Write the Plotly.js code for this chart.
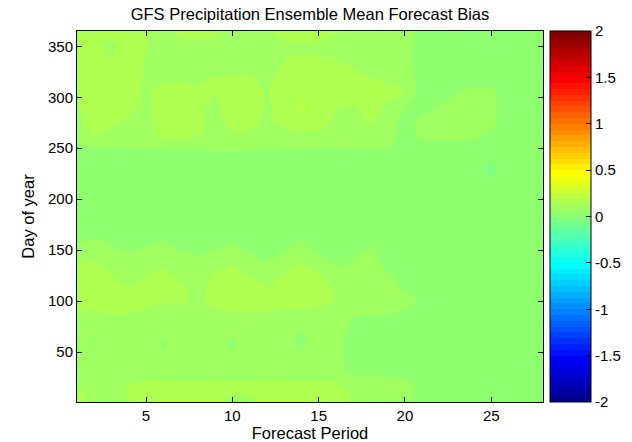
<!DOCTYPE html>
<html>
<head>
<meta charset="utf-8">
<script src="https://cdn.plot.ly/plotly-3.0.1.min.js"></script>
<style>
html,body{margin:0;padding:0;background:#fff;}
#chart{width:632px;height:442px;}
</style>
</head>
<body>
<div id="chart"></div>
<script>
// Forecast period (x) and day of year (y) sample positions
const forecastPeriods = [1,2,3,4,5,6,7,8,9,10,11,12,13,14,15,16,17,18,19,20,21,22,23,24,25,26,27,28];
const dayOfYear = [1,10,20,30,45,58,70,82,90,100,112,124,136,148,160,172,200,215,228,240,250,262,275,290,305,320,335,350,365];

// Ensemble mean forecast bias, one row per day-of-year sample
const bias_d001 = [0.145,0.11,0.10,0.12,0.155,0.155,0.155,0.155,0.145,0.10,0.11,0.145,0.155,0.155,0.155,0.155,0.115,0.09,0.09,0.085,0.04,0.03,0.03,0.03,0.03,0.03,0.03,0.03];
const bias_d010 = [0.14,0.11,0.11,0.13,0.155,0.155,0.155,0.155,0.15,0.13,0.13,0.15,0.155,0.155,0.155,0.15,0.115,0.11,0.09,0.085,0.04,0.03,0.03,0.03,0.03,0.03,0.03,0.03];
const bias_d020 = [0.10,0.10,0.11,0.124,0.135,0.135,0.13,0.13,0.132,0.13,0.13,0.135,0.132,0.13,0.13,0.128,0.10,0.11,0.09,0.08,0.04,0.03,0.03,0.03,0.03,0.03,0.03,0.03];
const bias_d030 = [0.09,0.09,0.09,0.09,0.09,0.09,0.09,0.09,0.09,0.09,0.09,0.09,0.09,0.09,0.09,0.085,0.045,0.04,0.04,0.04,0.035,0.03,0.03,0.03,0.03,0.03,0.03,0.03];
const bias_d045 = [0.09,0.085,0.09,0.09,0.09,0.07,0.09,0.09,0.09,0.068,0.09,0.09,0.09,0.068,0.09,0.085,0.04,0.035,0.035,0.035,0.03,0.03,0.03,0.03,0.03,0.03,0.03,0.03];
const bias_d058 = [0.09,0.055,0.09,0.09,0.09,0.055,0.09,0.09,0.09,0.05,0.09,0.09,0.09,0.05,0.09,0.08,0.035,0.03,0.03,0.03,0.03,0.03,0.03,0.03,0.03,0.03,0.03,0.03];
const bias_d070 = [0.09,0.085,0.09,0.09,0.09,0.08,0.09,0.09,0.09,0.075,0.09,0.09,0.09,0.055,0.09,0.085,0.05,0.035,0.035,0.035,0.03,0.03,0.03,0.03,0.03,0.03,0.03,0.03];
const bias_d082 = [0.105,0.10,0.11,0.105,0.10,0.09,0.095,0.09,0.10,0.105,0.11,0.105,0.10,0.10,0.10,0.09,0.06,0.04,0.035,0.035,0.03,0.03,0.03,0.03,0.03,0.03,0.03,0.03];
const bias_d090 = [0.13,0.12,0.14,0.135,0.12,0.11,0.115,0.10,0.12,0.126,0.128,0.126,0.12,0.12,0.115,0.10,0.085,0.08,0.08,0.055,0.035,0.03,0.03,0.03,0.03,0.03,0.03,0.03];
const bias_d100 = [0.145,0.14,0.15,0.145,0.14,0.128,0.132,0.115,0.14,0.15,0.15,0.15,0.15,0.15,0.14,0.124,0.10,0.10,0.13,0.09,0.058,0.035,0.03,0.03,0.03,0.03,0.03,0.03];
const bias_d112 = [0.155,0.155,0.15,0.13,0.145,0.15,0.135,0.11,0.14,0.155,0.15,0.13,0.15,0.155,0.145,0.12,0.09,0.09,0.085,0.055,0.03,0.03,0.03,0.03,0.03,0.03,0.03,0.03];
const bias_d124 = [0.15,0.155,0.13,0.11,0.126,0.135,0.115,0.11,0.13,0.145,0.126,0.11,0.128,0.145,0.13,0.10,0.09,0.09,0.07,0.04,0.03,0.03,0.03,0.03,0.03,0.03,0.03,0.03];
const bias_d136 = [0.128,0.135,0.11,0.10,0.11,0.12,0.10,0.10,0.115,0.126,0.09,0.068,0.115,0.13,0.11,0.055,0.07,0.08,0.05,0.03,0.03,0.03,0.03,0.03,0.03,0.03,0.03,0.03];
const bias_d148 = [0.08,0.09,0.08,0.062,0.078,0.088,0.062,0.05,0.07,0.085,0.062,0.04,0.062,0.085,0.055,0.035,0.05,0.075,0.04,0.03,0.03,0.03,0.03,0.03,0.03,0.03,0.03,0.03];
const bias_d160 = [0.05,0.07,0.05,0.035,0.045,0.063,0.04,0.035,0.045,0.055,0.035,0.03,0.04,0.063,0.04,0.03,0.035,0.045,0.03,0.03,0.03,0.03,0.03,0.03,0.03,0.03,0.03,0.03];
const bias_d172 = [0.03,0.03,0.03,0.03,0.03,0.03,0.03,0.03,0.03,0.03,0.03,0.03,0.03,0.03,0.03,0.03,0.03,0.03,0.03,0.03,0.03,0.03,0.03,0.03,0.03,0.03,0.03,0.03];
const bias_d200 = [0.03,0.03,0.03,0.03,0.03,0.03,0.03,0.03,0.03,0.03,0.03,0.03,0.03,0.03,0.03,0.03,0.03,0.03,0.03,0.03,0.03,0.03,0.03,0.03,0.03,0.03,0.03,0.03];
const bias_d215 = [0.03,0.03,0.03,0.03,0.03,0.03,0.03,0.03,0.03,0.03,0.03,0.03,0.03,0.03,0.03,0.03,0.03,0.03,0.03,0.03,0.03,0.03,0.03,0.03,0.03,0.03,0.03,0.03];
const bias_d228 = [0.03,0.03,0.03,0.03,0.03,0.03,0.03,0.03,0.03,0.03,0.03,0.03,0.03,0.03,0.03,0.03,0.03,0.03,0.03,0.03,0.03,0.03,0.03,0.01,-0.015,0.03,0.03,0.03];
const bias_d240 = [0.035,0.035,0.035,0.035,0.035,0.035,0.035,0.035,0.035,0.035,0.035,0.035,0.035,0.035,0.035,0.035,0.035,0.035,0.035,0.03,0.03,0.03,0.03,0.03,0.005,0.03,0.03,0.03];
const bias_d250 = [0.055,0.055,0.06,0.06,0.065,0.07,0.07,0.07,0.075,0.075,0.07,0.07,0.07,0.065,0.06,0.058,0.065,0.065,0.065,0.04,0.045,0.045,0.045,0.035,0.03,0.03,0.03,0.03];
const bias_d262 = [0.08,0.13,0.10,0.09,0.10,0.14,0.14,0.13,0.10,0.115,0.115,0.09,0.10,0.115,0.11,0.09,0.09,0.09,0.08,0.045,0.07,0.08,0.08,0.07,0.055,0.03,0.03,0.03];
const bias_d275 = [0.10,0.155,0.14,0.11,0.11,0.155,0.155,0.145,0.10,0.145,0.145,0.11,0.14,0.155,0.15,0.115,0.10,0.13,0.09,0.045,0.075,0.085,0.09,0.09,0.075,0.035,0.03,0.03];
const bias_d290 = [0.12,0.155,0.155,0.145,0.11,0.155,0.155,0.14,0.10,0.19,0.155,0.12,0.14,0.21,0.14,0.128,0.12,0.15,0.115,0.06,0.05,0.065,0.08,0.09,0.08,0.035,0.03,0.03];
const bias_d305 = [0.12,0.155,0.155,0.15,0.115,0.155,0.155,0.14,0.13,0.155,0.15,0.12,0.155,0.155,0.155,0.155,0.15,0.19,0.15,0.13,0.04,0.04,0.06,0.08,0.075,0.03,0.03,0.03];
const bias_d320 = [0.14,0.155,0.155,0.15,0.12,0.11,0.11,0.105,0.126,0.13,0.13,0.11,0.15,0.155,0.155,0.155,0.145,0.12,0.11,0.09,0.04,0.03,0.03,0.03,0.03,0.03,0.03,0.03];
const bias_d335 = [0.155,0.15,0.13,0.15,0.12,0.09,0.09,0.09,0.09,0.09,0.09,0.09,0.126,0.13,0.128,0.13,0.11,0.09,0.09,0.08,0.04,0.03,0.03,0.03,0.03,0.03,0.03,0.03];
const bias_d350 = [0.155,0.14,0.10,0.15,0.126,0.09,0.115,0.115,0.115,0.09,0.09,0.10,0.12,0.12,0.12,0.11,0.09,0.09,0.09,0.08,0.04,0.03,0.03,0.03,0.03,0.03,0.03,0.03];
const bias_d365 = [0.155,0.155,0.15,0.15,0.135,0.11,0.135,0.14,0.135,0.11,0.10,0.12,0.14,0.14,0.14,0.13,0.10,0.09,0.09,0.085,0.045,0.03,0.03,0.03,0.03,0.03,0.03,0.03];

const biasGrid = [bias_d001,bias_d010,bias_d020,bias_d030,bias_d045,bias_d058,bias_d070,bias_d082,bias_d090,bias_d100,
  bias_d112,bias_d124,bias_d136,bias_d148,bias_d160,bias_d172,bias_d200,bias_d215,bias_d228,bias_d240,
  bias_d250,bias_d262,bias_d275,bias_d290,bias_d305,bias_d320,bias_d335,bias_d350,bias_d365];

// Tick labels
const xTickVals = [5,10,15,20,25];
const yTickVals = [50,100,150,200,250,300,350];
const cbTickVals = [-2,-1.5,-1,-0.5,0,0.5,1,1.5,2];
const cbTickText = ['-2','-1.5','-1','-0.5','0','0.5','1','1.5','2'];

// MATLAB jet(m) colormap
function jet(m){
  const n = Math.ceil(m/4);
  const u = [];
  for(let i=1;i<=n;i++) u.push(i/n);
  for(let i=1;i<n;i++) u.push(1);
  for(let i=n;i>=1;i--) u.push(i/n);
  const J = Array.from({length:m}, ()=>[0,0,0]);
  const off = Math.ceil(n/2) - (m%4===1 ? 1 : 0);
  const g = u.map((_,i)=>off+i+1);
  const r = g.map(v=>v+n).filter(v=>v<=m);
  const b = g.map(v=>v-n).filter(v=>v>=1);
  const gg = g.filter(v=>v<=m);
  r.forEach((idx,i)=>{J[idx-1][0]=u[i];});
  gg.forEach((idx,i)=>{J[idx-1][1]=u[i];});
  b.forEach((idx,i)=>{J[idx-1][2]=u[u.length-b.length+i];});
  return J;
}
const jetMap = jet(64);
const toRgb = c => 'rgb(' + c.map(v=>Math.round(v*255)).join(',') + ')';
const colorscale = [[0, toRgb(jetMap[0])]];
jetMap.forEach((c,k)=>colorscale.push([(k+0.5)/64, toRgb(c)]));
colorscale.push([1, toRgb(jetMap[63])]);

const FONT = '"Liberation Sans", Arial, Helvetica, sans-serif';
const CB_X = 1.0150;        // colorbar left edge, paper fraction
const CB_TICK = 5 / 466;    // tick length as paper fraction of plot width

const trace = {
  type: 'contour',
  x: forecastPeriods,
  y: dayOfYear,
  z: biasGrid,
  zmin: -2, zmax: 2,
  autocontour: false,
  contours: {start: -2, end: 2, size: 0.0625, coloring: 'fill', showlines: false},
  line: {width: 0, smoothing: 0},
  colorscale: colorscale,
  hoverinfo: 'skip',
  colorbar: {
    x: CB_X, xanchor: 'left', xref: 'paper',
    y: 0.5, yanchor: 'middle', yref: 'paper',
    len: 1, lenmode: 'fraction',
    thickness: 41, thicknessmode: 'pixels',
    xpad: 0, ypad: 0,
    outlinewidth: 1, outlinecolor: '#000',
    ticks: 'inside', ticklen: 5, tickwidth: 1, tickcolor: '#000',
    tickmode: 'array', tickvals: cbTickVals, ticktext: cbTickText,
    tickfont: {family: FONT, size: 15, color: '#000'},
    showticklabels: true
  }
};

// left-side inside ticks of the colorbar (MATLAB draws ticks on both edges)
const cbLeftTicks = cbTickVals.slice(1, -1).map(v => ({
  type: 'line', xref: 'paper', yref: 'paper',
  x0: CB_X, x1: CB_X + CB_TICK,
  y0: (v + 2) / 4, y1: (v + 2) / 4,
  line: {color: '#000', width: 1}
}));

const layout = {
  width: 632, height: 442,
  margin: {l: 77, r: 89, t: 31, b: 40, pad: 0, autoexpand: false},
  paper_bgcolor: '#fff', plot_bgcolor: '#fff',
  font: {family: FONT, size: 15, color: '#000'},
  showlegend: false,
  shapes: cbLeftTicks,
  title: {
    text: 'GFS Precipitation Ensemble Mean Forecast Bias',
    font: {family: FONT, size: 16.5, color: '#000'},
    x: 0.5, xref: 'paper', xanchor: 'center',
    y: 1 - 14/442, yref: 'container', yanchor: 'middle'
  },
  xaxis: {
    range: [1, 28], tickmode: 'array', tickvals: xTickVals,
    ticks: 'inside', ticklen: 5, tickwidth: 1, tickcolor: '#000',
    showline: true, linecolor: '#000', linewidth: 1, mirror: 'allticks',
    showgrid: false, zeroline: false, automargin: false,
    tickfont: {family: FONT, size: 15, color: '#000'},
    title: {text: 'Forecast Period', font: {family: FONT, size: 16.5, color: '#000'}, standoff: 11}
  },
  yaxis: {
    range: [1, 365], tickmode: 'array', tickvals: yTickVals,
    ticks: 'inside', ticklen: 5, tickwidth: 1, tickcolor: '#000',
    showline: true, linecolor: '#000', linewidth: 1, mirror: 'allticks',
    showgrid: false, zeroline: false, automargin: false,
    tickfont: {family: FONT, size: 15, color: '#000'},
    title: {text: 'Day of year', font: {family: FONT, size: 16.5, color: '#000'}, standoff: 9}
  }
};

Plotly.newPlot('chart', [trace], layout, {displayModeBar: false, staticPlot: true});
</script>
</body>
</html>
